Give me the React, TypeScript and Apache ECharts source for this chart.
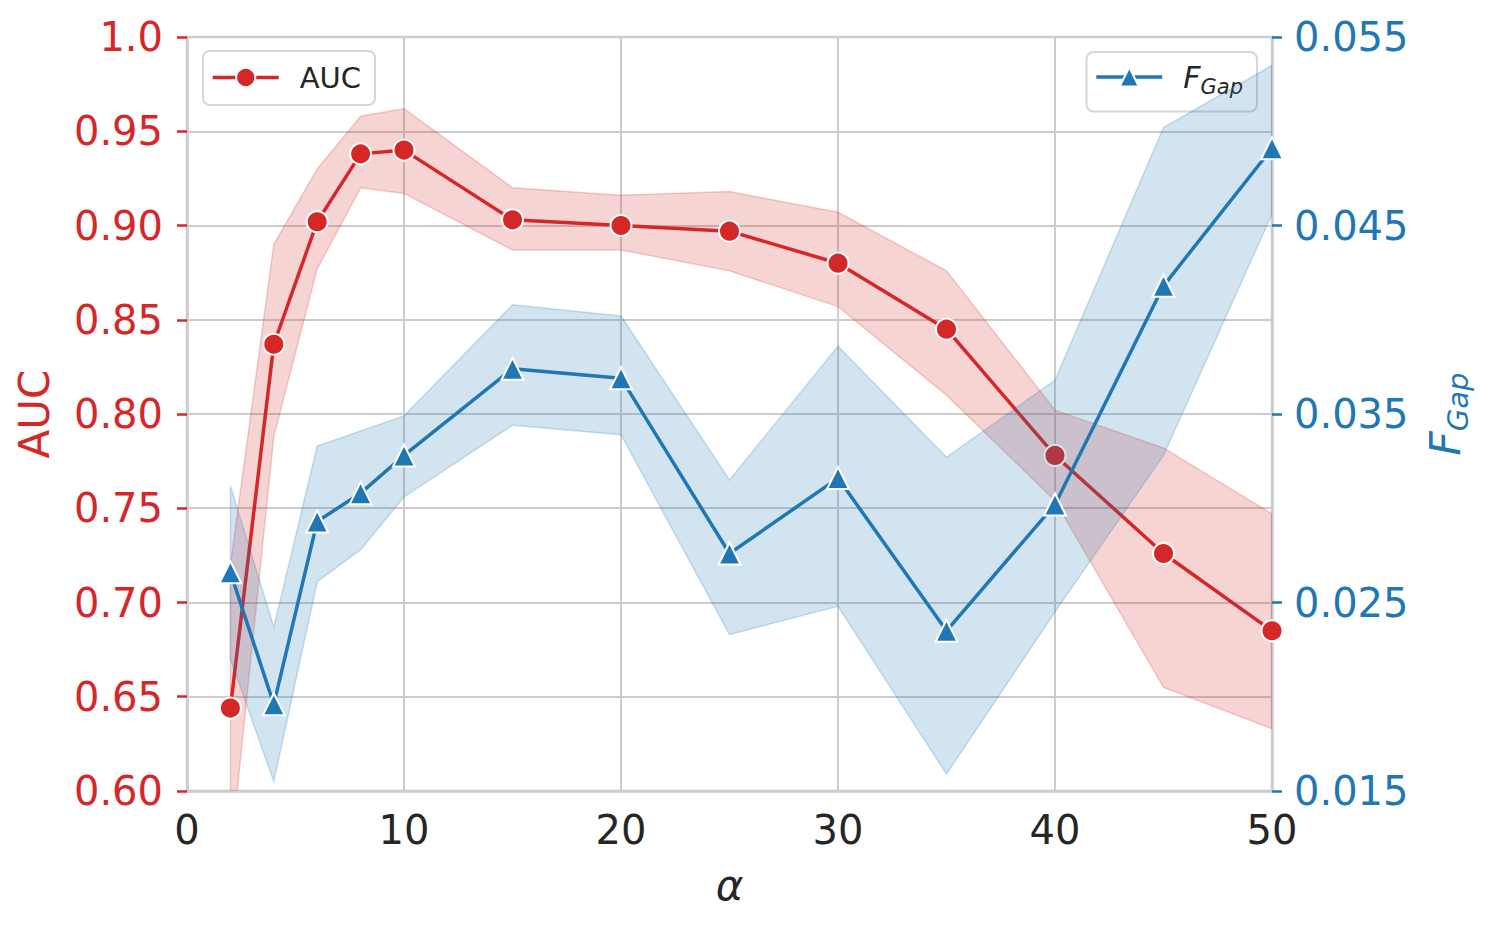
import React, { useEffect, useRef } from "react";
import * as echarts from "echarts";

const alphas = [2, 4, 6, 8, 10, 15, 20, 25, 30, 35, 40, 45, 50];
const auc = [0.644, 0.837, 0.902, 0.938, 0.940, 0.903, 0.900, 0.897, 0.880, 0.845, 0.778, 0.726, 0.685];
const aucUpper = [0.72, 0.890, 0.930, 0.958, 0.962, 0.920, 0.916, 0.918, 0.907, 0.876, 0.802, 0.782, 0.747];
const aucLower = [0.565, 0.788, 0.877, 0.920, 0.917, 0.887, 0.887, 0.876, 0.857, 0.810, 0.754, 0.655, 0.633];
const fgap = [0.0266, 0.0196, 0.0293, 0.0308, 0.0328, 0.0374, 0.0369, 0.0276, 0.0316, 0.0235, 0.0302, 0.0418, 0.0491];
const fUpper = [0.0312, 0.0237, 0.0333, 0.0341, 0.0349, 0.0408, 0.0402, 0.0315, 0.0386, 0.0327, 0.0368, 0.0502, 0.0535];
const fLower = [0.0220, 0.0155, 0.0261, 0.0278, 0.0306, 0.0344, 0.0339, 0.0233, 0.0248, 0.0159, 0.0245, 0.0328, 0.0456];

const leftTicks = [0.6, 0.65, 0.7, 0.75, 0.8, 0.85, 0.9, 0.95, 1.0];
const rightTicks = [0.015, 0.025, 0.035, 0.045, 0.055];
const xTicks = [0, 10, 20, 30, 40, 50];

const RED = "#d62728";
const BLUE = "#1f77b4";
const FONT = "DejaVu Sans";

function bandSeries(upper: number[], lower: number[], yAxisIndex: number, fill: string, stroke: string, z: number) {
  return {
    type: "custom",
    yAxisIndex,
    silent: true,
    clip: true,
    z,
    data: [0],
    renderItem: (_params: any, api: any) => {
      const pts: number[][] = [];
      for (let i = 0; i < alphas.length; i++) pts.push(api.coord([alphas[i], upper[i]]));
      for (let i = alphas.length - 1; i >= 0; i--) pts.push(api.coord([alphas[i], lower[i]]));
      return {
        type: "polygon",
        shape: { points: pts },
        style: { fill, stroke, lineWidth: 1.5 },
      };
    },
  };
}

export default function App() {
  const ref = useRef<HTMLDivElement>(null);
  useEffect(() => {
    document.body.style.margin = "0";
    const chart = echarts.init(ref.current!, null, { renderer: "svg" });
    const pair = (ys: number[]) => alphas.map((x, i) => [x, ys[i]]);
    const option: any = {
      animation: false,
      backgroundColor: "#ffffff",
      textStyle: { fontFamily: FONT },
      grid: {
        left: 187, right: 218, top: 37, bottom: 142,
        show: true, borderColor: "#cccccc", borderWidth: 2.5, containLabel: false,
      },
      legend: [
        {
          data: ["AUC"], left: 203, top: 51,
          padding: [12, 14, 13, 8], itemWidth: 66, itemHeight: 24, itemGap: 10,
          borderColor: "#d6d6d6", borderWidth: 2, borderRadius: 7,
          backgroundColor: "rgba(255,255,255,0.85)",
          lineStyle: { width: 3.5 },
          textStyle: { fontSize: 29, color: "#262626", fontFamily: FONT, padding: [0, 0, 0, 16] },
        },
        {
          data: ["F_Gap"], right: 233, top: 52,
          padding: [10, 14, 14, 8], itemWidth: 66, itemHeight: 24, itemGap: 10,
          borderColor: "#d6d6d6", borderWidth: 2, borderRadius: 7,
          backgroundColor: "rgba(255,255,255,0.85)",
          lineStyle: { width: 3.5 },
          formatter: () => "{i|F}{s|Gap}",
          textStyle: {
            fontFamily: FONT, color: "#262626", padding: [0, 0, 0, 16],
            rich: {
              i: { fontSize: 30, fontStyle: "italic", color: "#262626", fontFamily: FONT },
              s: { fontSize: 21, fontStyle: "italic", color: "#262626", fontFamily: FONT, padding: [20, 0, 0, 0] },
            },
          },
        },
      ],
      xAxis: {
        type: "value", min: 0, max: 50, interval: 10,
        name: "α", nameLocation: "middle", nameGap: 73,
        nameTextStyle: { fontSize: 42, fontStyle: "italic", color: "#262626", fontFamily: FONT },
        axisLine: { show: true, lineStyle: { color: "#cccccc", width: 2.5 } },
        axisTick: { show: false },
        axisLabel: {
          customValues: xTicks, fontSize: 40, color: "#262626", margin: 19, fontFamily: FONT,
          formatter: (v: number) => String(v),
        },
        splitLine: { show: true, lineStyle: { color: "#cccccc", width: 2 } },
      },
      yAxis: [
        {
          type: "value", min: 0.6, max: 1.0, position: "left",
          name: "AUC", nameLocation: "middle", nameGap: 132, nameRotate: 90,
          nameTextStyle: { fontSize: 42, color: RED, fontFamily: FONT },
          axisLine: { show: true, lineStyle: { color: "#cccccc", width: 2.5 } },
          axisTick: { show: true, customValues: leftTicks, length: 10, lineStyle: { color: RED, width: 2.5 } },
          axisLabel: {
            customValues: leftTicks, fontSize: 40, color: RED, margin: 24, fontFamily: FONT,
            formatter: (v: number) => (Math.abs(v - 1) < 1e-9 ? "1.0" : v.toFixed(2)),
          },
          splitLine: { show: true, lineStyle: { color: "#cccccc", width: 2 } },
        },
        {
          type: "value", min: 0.015, max: 0.055, position: "right",
          name: "{i|F}{s|Gap}", nameLocation: "middle", nameGap: 147, nameRotate: 90,
          nameTextStyle: {
            color: BLUE, fontFamily: FONT,
            rich: {
              i: { fontSize: 42, fontStyle: "italic", color: BLUE, fontFamily: FONT },
              s: { fontSize: 29, fontStyle: "italic", color: BLUE, fontFamily: FONT, padding: [24, 0, 0, 0] },
            },
          },
          axisLine: { show: true, lineStyle: { color: "#cccccc", width: 2.5 } },
          axisTick: { show: true, customValues: rightTicks, length: 10, lineStyle: { color: BLUE, width: 2.5 } },
          axisLabel: {
            customValues: rightTicks, fontSize: 40, color: BLUE, margin: 22, fontFamily: FONT,
            formatter: (v: number) => v.toFixed(3),
          },
          splitLine: { show: false },
        },
      ],
      series: [
        bandSeries(aucUpper, aucLower, 0, "rgba(214,39,40,0.2)", "rgba(214,39,40,0.22)", 3),
        {
          name: "AUC", type: "line", yAxisIndex: 0, data: pair(auc), z: 4,
          symbol: "circle", symbolSize: 21,
          lineStyle: { color: RED, width: 3.5 },
          itemStyle: { color: RED, borderColor: "#ffffff", borderWidth: 2 },
        },
        bandSeries(fUpper, fLower, 1, "rgba(31,119,180,0.2)", "rgba(31,119,180,0.22)", 5),
        {
          name: "F_Gap", type: "line", yAxisIndex: 1, data: pair(fgap), z: 6,
          symbol: "triangle", symbolSize: 22,
          lineStyle: { color: BLUE, width: 3.5 },
          itemStyle: { color: BLUE, borderColor: "#ffffff", borderWidth: 2 },
        },
      ],
    };
    chart.setOption(option);
    return () => chart.dispose();
  }, []);
  return <div ref={ref} style={{ position: "fixed", left: 0, top: 0, width: 1490, height: 933 }} />;
}
